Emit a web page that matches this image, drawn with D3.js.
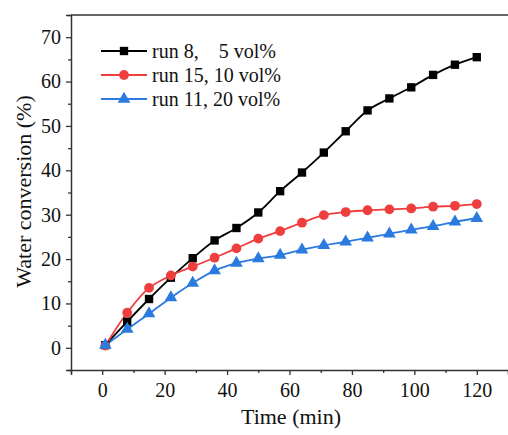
<!DOCTYPE html>
<html>
<head>
<meta charset="utf-8">
<script src="https://cdn.jsdelivr.net/npm/d3@7"></script>
<style>
  body { margin: 0; background: #fff; }
  text { font-family: "Liberation Serif", "Times New Roman", serif; }
</style>
</head>
<body>
<div id="chart"></div>
<script>
const width = 508;
const height = 435;

const times = [1, 8, 15, 22, 29, 36, 43, 50, 57, 64, 71, 78, 85, 92, 99, 106, 113, 120];
const run8 = [0.6, 5.9, 11.0, 15.8, 20.2, 24.2, 27.0, 30.5, 35.3, 39.5, 44.0, 48.8, 53.5, 56.2, 58.7, 61.5, 63.8, 65.5];
const run15 = [0.5, 7.9, 13.5, 16.3, 18.3, 20.3, 22.4, 24.6, 26.3, 28.2, 29.9, 30.6, 31.0, 31.2, 31.4, 31.8, 32.0, 32.4];
const run11 = [0.6, 4.2, 7.7, 11.3, 14.6, 17.4, 19.1, 20.1, 20.9, 22.1, 23.1, 23.9, 24.8, 25.7, 26.6, 27.4, 28.4, 29.2];

const seriesNames = ["run 8,    5 vol%", "run 15, 10 vol%", "run 11, 20 vol%"];
const xTicks = [0, 20, 40, 60, 80, 100, 120];
const yTicks = [0, 10, 20, 30, 40, 50, 60, 70];

const series = [
    { name: seriesNames[0], values: run8, color: "#000000", symbol: d3.symbolSquare, size: 70 },
    { name: seriesNames[1], values: run15, color: "#ee3e3e", symbol: d3.symbolCircle, size: 75 },
    { name: seriesNames[2], values: run11, color: "#2a7ae0", symbol: d3.symbolTriangle, size: 70 }
];

const margin = { left: 71, top: 15, right: 508, bottom: 370 };

const x = d3.scaleLinear().domain([-10, 130]).range([margin.left, margin.right]);
const y = d3.scaleLinear().domain([-5, 75]).range([margin.bottom, margin.top]);

const svg = d3.select("#chart")
    .append("svg")
    .attr("width", width)
    .attr("height", height);

const axisColor = "#333";

// frame (top) line
svg.append("line")
    .attr("x1", margin.left).attr("x2", margin.right)
    .attr("y1", margin.top).attr("y2", margin.top)
    .attr("stroke", axisColor).attr("stroke-width", 1.5);

// x axis
svg.append("g")
    .attr("transform", `translate(0,${margin.bottom})`)
    .call(d3.axisBottom(x).tickValues(xTicks).tickSize(5).tickPadding(8).tickFormat(d3.format("d")));
svg.append("g")
    .attr("transform", `translate(0,${margin.bottom})`)
    .call(d3.axisBottom(x).tickValues(d3.range(-10, 131, 20)).tickSize(3).tickFormat(""))
    .call(g => g.select(".domain").remove());

// y axis
svg.append("g")
    .attr("transform", `translate(${margin.left},0)`)
    .call(d3.axisLeft(y).tickValues(yTicks).tickSize(5).tickPadding(5).tickFormat(d3.format("d")));
svg.append("g")
    .attr("transform", `translate(${margin.left},0)`)
    .call(d3.axisLeft(y).tickValues(d3.range(-5, 76, 10)).tickSize(3).tickFormat(""))
    .call(g => g.select(".domain").remove());

svg.selectAll(".domain").attr("stroke", axisColor).attr("stroke-width", 1.5);
svg.selectAll(".tick line").attr("stroke", axisColor).attr("stroke-width", 1.3);
svg.selectAll(".tick text")
    .attr("font-family", "Liberation Serif")
    .attr("font-size", 20)
    .attr("fill", "#111");

// axis titles
svg.append("text")
    .attr("x", 291)
    .attr("y", 424)
    .attr("text-anchor", "middle")
    .attr("font-size", 22)
    .attr("fill", "#111")
    .text("Time (min)");

svg.append("text")
    .attr("transform", `translate(31,${y(35) - 1}) rotate(-90)`)
    .attr("text-anchor", "middle")
    .attr("font-size", 22)
    .attr("fill", "#111")
    .text("Water conversion (%)");

// lines + markers
const line = d3.line()
    .x((d, i) => x(times[i]))
    .y(d => y(d))
    .curve(d3.curveCatmullRom.alpha(0.5));

series.forEach(s => {
    svg.append("path")
        .datum(s.values)
        .attr("d", line)
        .attr("fill", "none")
        .attr("stroke", s.color)
        .attr("stroke-width", 1.8);
});

series.forEach(s => {
    svg.append("g")
        .selectAll("path")
        .data(s.values)
        .join("path")
        .attr("transform", (d, i) => `translate(${x(times[i])},${y(d)})`)
        .attr("d", d3.symbol().type(s.symbol).size(s.size))
        .attr("fill", s.color);
});

// legend
const legend = svg.append("g").attr("transform", "translate(101,51)");
series.forEach((s, i) => {
    const row = legend.append("g").attr("transform", `translate(0,${i * 24})`);
    row.append("line")
        .attr("x1", 0).attr("x2", 46)
        .attr("stroke", s.color).attr("stroke-width", 1.8);
    row.append("path")
        .attr("transform", "translate(23,0)")
        .attr("d", d3.symbol().type(s.symbol).size(s.size))
        .attr("fill", s.color);
    row.append("text")
        .attr("x", 51)
        .attr("y", 7)
        .attr("font-size", 20)
        .attr("fill", "#111")
        .style("white-space", "pre")
        .text(s.name);
});
</script>
</body>
</html>
